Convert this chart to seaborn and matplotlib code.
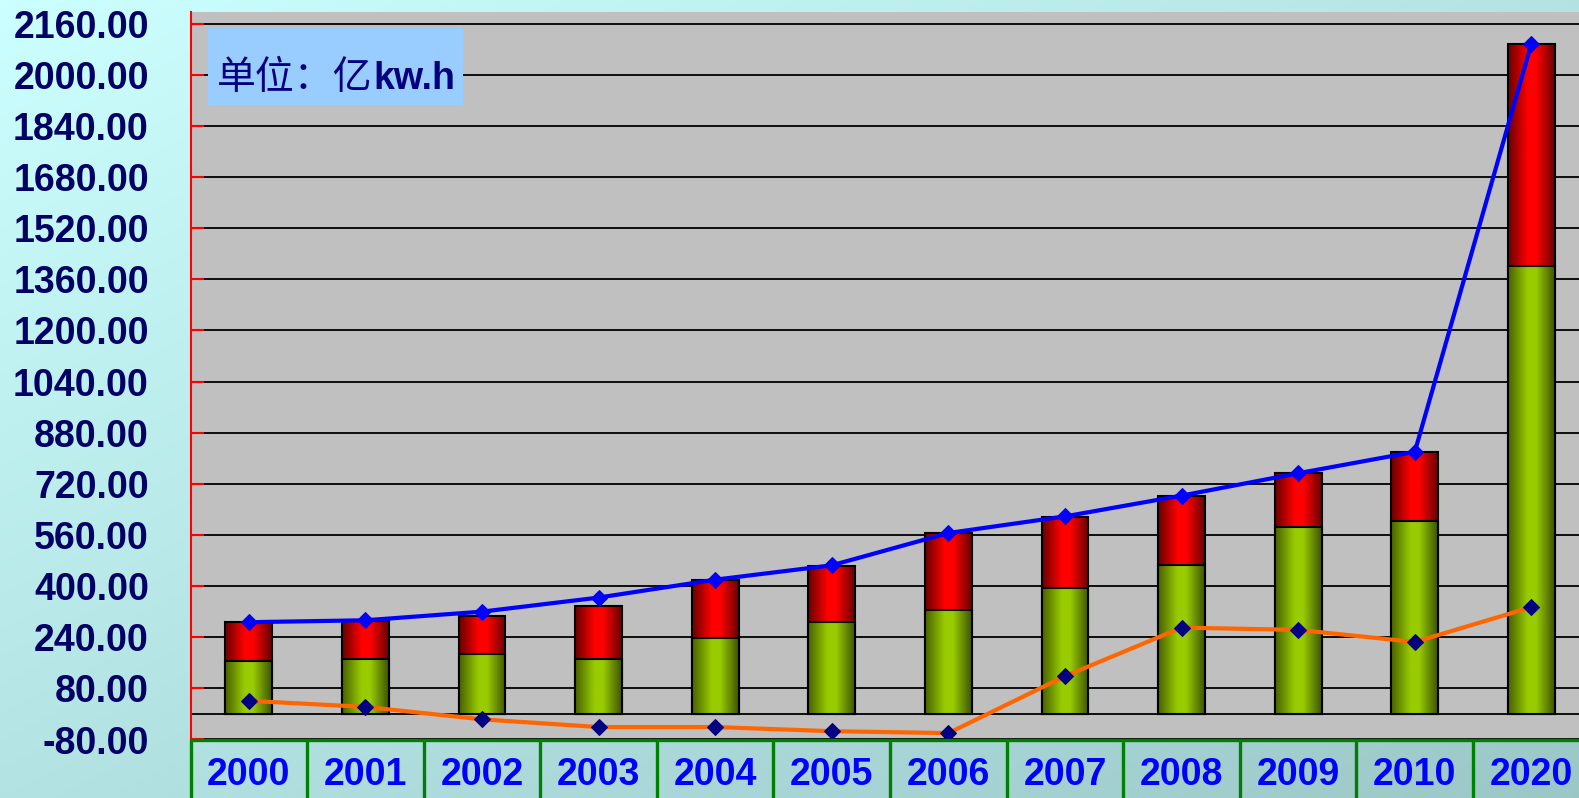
import numpy as np
import pandas as pd
import matplotlib
matplotlib.use("Agg")
import matplotlib.pyplot as plt
import matplotlib.transforms as mtransforms
from matplotlib.colors import LinearSegmentedColormap
from matplotlib.patches import Rectangle
import seaborn as sns

# values (unit: 亿kw.h)
years = ['2000', '2001', '2002', '2003', '2004', '2005',
         '2006', '2007', '2008', '2009', '2010', '2020']
green_vals = [167, 173, 186, 173, 237, 287, 324, 394, 466, 586, 605, 1400]
total_vals = [287, 292, 307, 339, 420, 464, 565, 616, 683, 753, 820, 2097]
blue_vals = [287, 293, 320, 364, 420, 465, 566, 618, 683, 753, 820, 2097]
orange_vals = [41, 22, -17, -41, -41, -54, -60, 118, 270, 263, 225, 334]
y_ticks = [-80, 80, 240, 400, 560, 720, 880, 1040, 1200,
           1360, 1520, 1680, 1840, 2000, 2160]

sns.set_style("white")
plt.rcParams['font.family'] = ['Liberation Sans', 'DejaVu Sans']

W, H = 1579, 798
fig = plt.figure(figsize=(W / 100, H / 100), dpi=100)

#%% background gradient (light cyan -> dull teal)
bg = fig.add_axes([0, 0, 1, 1], zorder=-10)
gx, gy = np.meshgrid(np.linspace(0, 1, 200), np.linspace(0, 1, 200))
t = (gx + gy) / 2
c0 = np.array([0.80, 1.00, 1.00])
c1 = np.array([0.61, 0.78, 0.78])
bg.imshow(c0 + (c1 - c0) * t[..., None], extent=[0, 1, 0, 1], aspect='auto')
bg.axis('off')

#%% main axes
left, right, top, bottom = 190.5, 190.5 + 12 * 116.6, 12, 739.5
ax = fig.add_axes([left / W, 1 - bottom / H, (right - left) / W, (bottom - top) / H])
ax.set_facecolor('#c0c0c0')

df = pd.DataFrame({'year': years, 'green': green_vals, 'total': total_vals})
sns.barplot(data=df, x='year', y='total', color='red', width=0.4, errorbar=None,
            edgecolor='black', linewidth=1.5, ax=ax, zorder=2)
sns.barplot(data=df, x='year', y='green', color='green', width=0.4, errorbar=None,
            edgecolor='black', linewidth=1.5, ax=ax, zorder=2.4)

red_cmap = LinearSegmentedColormap.from_list(
    'cyl_r', [(0, '#6a0000'), (0.42, '#ff0000'), (0.6, '#ff0000'), (1, '#6a0000')])
green_cmap = LinearSegmentedColormap.from_list(
    'cyl_g', [(0, '#4a6300'), (0.42, '#99cc00'), (0.6, '#99cc00'), (1, '#3f5500')])
grad = np.linspace(0, 1, 64).reshape(1, -1)
for cont, cmap, z in [(ax.containers[0], red_cmap, 2.0), (ax.containers[1], green_cmap, 2.4)]:
    for p in cont.patches:
        x0, y0, w, h = p.get_x(), p.get_y(), p.get_width(), p.get_height()
        ax.imshow(grad, cmap=cmap, extent=[x0, x0 + w, y0, y0 + h],
                  aspect='auto', interpolation='bilinear', zorder=z)
        p.set_facecolor('none')
        p.set_zorder(z + 0.2)

xpos = np.arange(len(years))
sns.lineplot(x=xpos, y=blue_vals, color='#0000ff', linewidth=3, marker='D', markersize=8.5,
             markeredgecolor='#0000ff', markerfacecolor='#0000ff', ax=ax, zorder=4)
sns.lineplot(x=xpos, y=orange_vals, color='#ff6600', linewidth=3, marker='D', markersize=8.5,
             markeredgecolor='#000080', markerfacecolor='#000080', ax=ax, zorder=4)

ax.axhline(0, color='black', lw=1.3, zorder=1.6)
ax.set_xlim(-0.5, 11.5)
ax.set_ylim(-80, 2196)
ax.set_yticks(y_ticks)
ax.set_yticklabels(['%.2f' % v for v in y_ticks])
ax.yaxis.grid(True, color='black', lw=1.3)
ax.set_axisbelow('line')
ax.tick_params(axis='y', direction='in', length=9, width=1.5, color='red', pad=30,
               labelsize=27, labelcolor='#000066', left=True)
for lab in ax.get_yticklabels():
    lab.set_fontweight('bold')
ax.set_xticks([])
ax.set_xlabel('')
ax.set_ylabel('')
for s in ['top', 'right', 'bottom']:
    ax.spines[s].set_visible(False)
ax.spines['left'].set_color('red')
ax.spines['left'].set_linewidth(1.5)

#%% category table under the plot
trans = mtransforms.blended_transform_factory(ax.transData, ax.transAxes)
ax.plot([-0.5, 11.5], [0, 0], transform=trans, color='#008000', lw=2.4,
        clip_on=False, zorder=6, solid_capstyle='butt')
for b in np.arange(-0.5, 12, 1.0):
    ax.plot([b, b], [0, -0.2], transform=trans, color='#008000', lw=2.4,
            clip_on=False, zorder=6)
for i, yr in enumerate(years):
    ax.text(i, -0.0625, yr, transform=trans, ha='center', va='baseline',
            fontsize=27, fontweight='bold', color='#0000ff', clip_on=False)

#%% unit label
fig.add_artist(Rectangle((208 / W, 1 - 105 / H), 255 / W, 77 / H, transform=fig.transFigure,
                         facecolor='#99ccff', edgecolor='none', zorder=2))
fig.text(216.7 / W, 1 - 89 / H, '单位：亿', family=['Noto Sans CJK SC', 'DejaVu Sans'],
         fontsize=28, color='#000080', va='baseline', zorder=5)
fig.text(373 / W, 1 - 89 / H, 'kw.h', fontsize=27, fontweight='bold',
         color='#000080', va='baseline', zorder=5)

fig.savefig('out.png', dpi=100)
